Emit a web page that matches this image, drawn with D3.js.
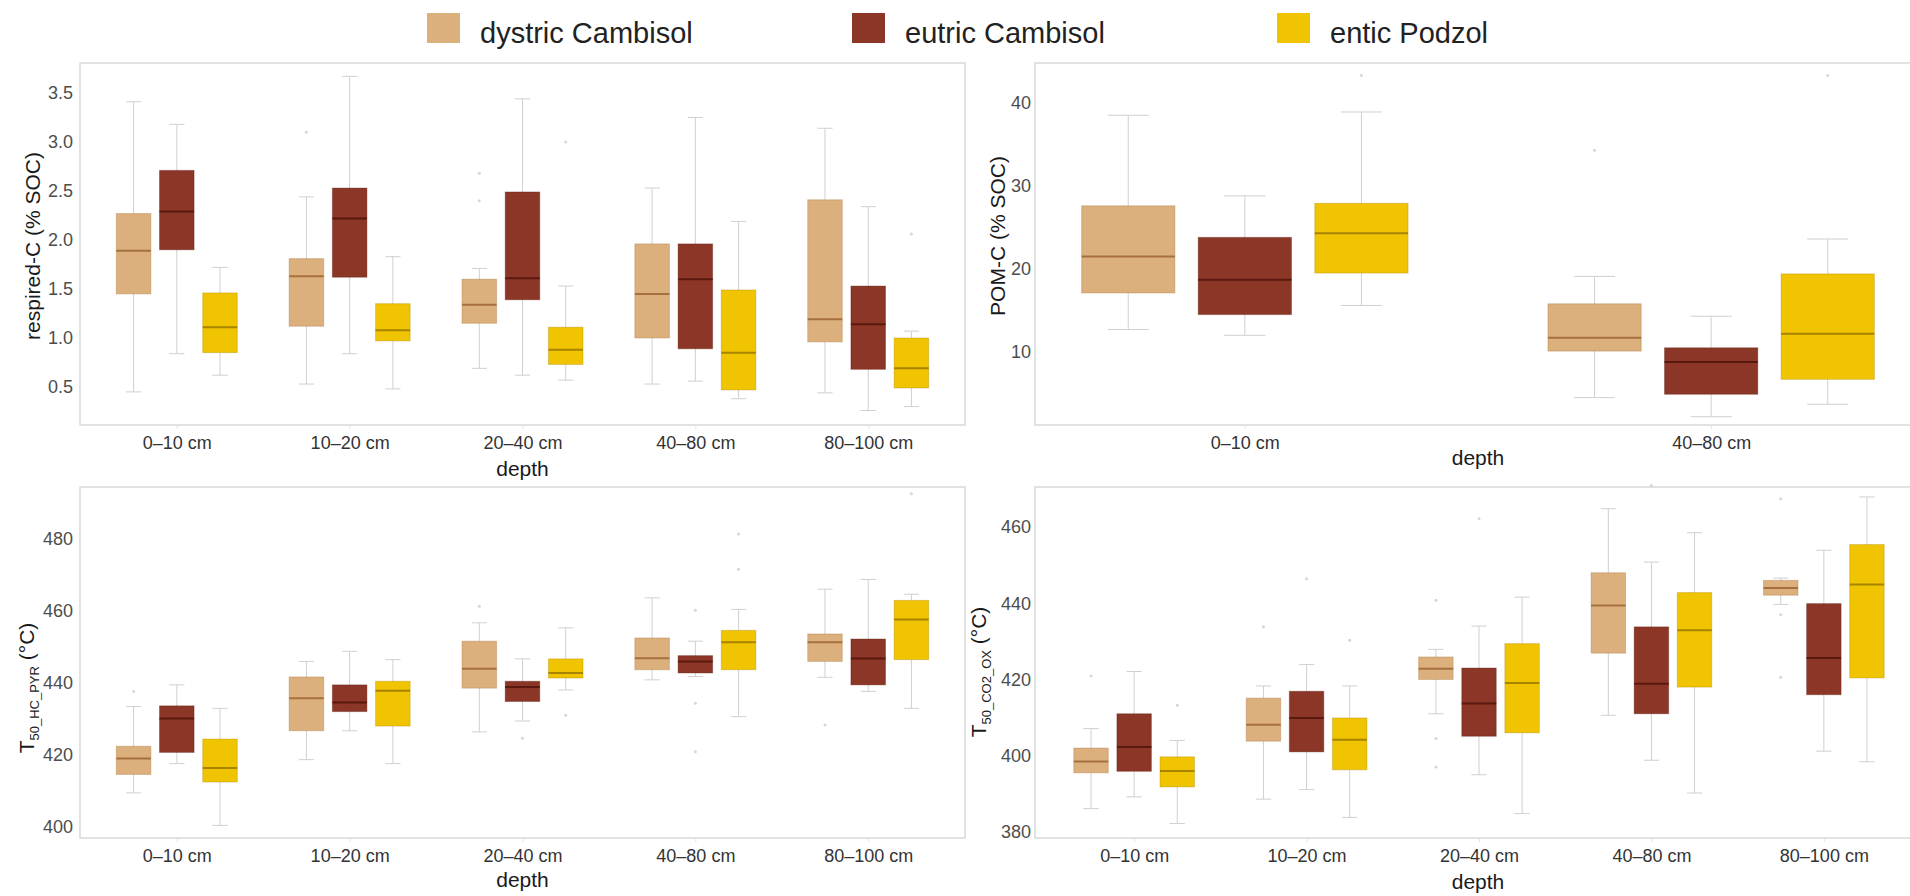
<!DOCTYPE html>
<html>
<head>
<meta charset="utf-8">
<script src="https://cdn.jsdelivr.net/npm/d3@7"></script>
<style>
    body { margin: 0; background: #fff; }
    text { font-family: "Liberation Sans", Arial, sans-serif; }
</style>
</head>
<body>
<svg id="chart" width="1910" height="896"></svg>
<script>
// soil types + depth classes
var soils = ['dystric Cambisol', 'eutric Cambisol', 'entic Podzol']
var depths5 = ['0–10 cm', '10–20 cm', '20–40 cm', '40–80 cm', '80–100 cm']
var depths2 = ['0–10 cm', '40–80 cm']

// each box: [lower whisker, q1, median, q3, upper whisker], one per depth
var respDys = [[0.45, 1.45, 1.89, 2.27, 3.41], [0.53, 1.12, 1.63, 1.81, 2.44], [0.69, 1.15, 1.34, 1.60, 1.71], [0.53, 1.00, 1.45, 1.96, 2.53], [0.44, 0.96, 1.19, 2.41, 3.14]]
var respEut = [[0.84, 1.90, 2.29, 2.71, 3.18], [0.84, 1.62, 2.22, 2.53, 3.67], [0.62, 1.39, 1.61, 2.49, 3.44], [0.56, 0.89, 1.60, 1.96, 3.25], [0.26, 0.68, 1.14, 1.53, 2.34]]
var respEnt = [[0.62, 0.85, 1.11, 1.46, 1.72], [0.48, 0.97, 1.08, 1.35, 1.83], [0.57, 0.73, 0.88, 1.11, 1.53], [0.38, 0.47, 0.85, 1.49, 2.19], [0.30, 0.49, 0.69, 1.00, 1.07]]

var pomDys = [[12.7, 17.1, 21.5, 27.6, 38.5], [4.5, 10.1, 11.7, 15.8, 19.1]]
var pomEut = [[12.0, 14.5, 18.7, 23.8, 28.8], [2.2, 4.9, 8.8, 10.5, 14.3]]
var pomEnt = [[15.6, 19.5, 24.3, 27.9, 38.9], [3.7, 6.7, 12.2, 19.4, 23.6]]

var hcDys = [[409.5, 414.6, 419.0, 422.4, 433.4], [418.7, 426.7, 435.7, 441.6, 445.9], [426.4, 438.5, 443.9, 451.5, 456.6], [440.8, 443.6, 446.8, 452.4, 463.5], [441.5, 445.9, 451.2, 453.5, 465.9]]
var hcEut = [[417.6, 420.7, 430.1, 433.6, 439.4], [426.7, 432.0, 434.5, 439.4, 448.7], [429.4, 434.8, 438.8, 440.4, 446.6], [441.7, 442.7, 445.9, 447.5, 451.5], [437.6, 439.4, 446.7, 452.1, 468.6]]
var hcEnt = [[400.5, 412.5, 416.4, 424.4, 432.9], [417.6, 428.0, 437.8, 440.4, 446.4], [438.0, 441.3, 442.7, 446.6, 455.2], [430.6, 443.6, 451.2, 454.5, 460.3], [432.9, 446.4, 457.5, 462.8, 464.5]]

var coDys = [[386.1, 395.5, 398.5, 402.0, 407.1], [388.6, 403.8, 408.1, 415.1, 418.3], [411.0, 420.0, 422.8, 425.9, 427.9], [410.6, 426.9, 439.4, 448.0, 464.8], [439.7, 442.1, 444.0, 446.0, 446.6]]
var coEut = [[389.2, 395.9, 402.3, 411.0, 422.1], [391.1, 401.0, 409.9, 416.9, 423.9], [395.0, 405.1, 413.7, 423.0, 434.0], [398.8, 411.0, 418.9, 433.8, 450.8], [401.2, 416.0, 425.6, 439.9, 453.9]]
var coEnt = [[382.2, 391.8, 396.0, 399.7, 404.0], [383.8, 396.3, 404.2, 409.9, 418.3], [384.8, 406.0, 419.1, 429.4, 441.6], [390.2, 418.0, 432.9, 442.8, 458.5], [398.4, 420.4, 444.9, 455.4, 467.9]]

// outliers: [depth index, soil index, value]
var respOut = [[1, 0, 3.1], [2, 0, 2.68], [2, 0, 2.4], [2, 2, 3.0], [4, 2, 2.06]]
var pomOut = [[0, 2, 43.3], [1, 0, 34.3], [1, 2, 43.3]]
var hcOut = [[0, 0, 437.6], [2, 0, 461.2], [2, 1, 424.6], [2, 2, 431], [3, 1, 460.1], [3, 1, 434.3], [3, 1, 420.9], [3, 2, 481.2], [3, 2, 471.4], [4, 0, 428.3], [4, 2, 492.3]]
var coOut = [[0, 0, 420.9], [0, 2, 413.2], [1, 0, 433.8], [1, 1, 446.4], [1, 2, 430.3], [2, 0, 440.8], [2, 0, 404.5], [2, 0, 397], [2, 1, 462.2], [3, 1, 470.9], [4, 0, 467.4], [4, 0, 437], [4, 0, 420.6]]

// tick values
var respTicks = [0.5, 1.0, 1.5, 2.0, 2.5, 3.0, 3.5]
var pomTicks = [10, 20, 30, 40]
var hcTicks = [400, 420, 440, 460, 480]
var coTicks = [380, 400, 420, 440, 460]

var fills = ['#dcb07c', '#8c3627', '#f0c400']
var medians = ['#a5703c', '#5a190f', '#a88300']

var svg = d3.select('#chart')

// legend
var legend = svg.append('g')
soils.forEach(function (s, i) {
    var lx = 427 + i * 425
    legend.append('rect').attr('x', lx).attr('y', 13).attr('width', 33).attr('height', 30).attr('fill', fills[i])
    legend.append('text').attr('x', lx + 53).attr('y', 43).attr('font-size', 29).attr('fill', '#222').text(s)
})

function drawPanel(p) {
    var g = svg.append('g')
    var x = d3.scalePoint().domain(p.cats).range([p.x0, p.x1]).padding(p.pad)
    var y = d3.scaleLinear().domain(p.dom).range([p.y1, p.y0])
    var step = x.step()
    var bw = step * 0.2, slot = step * 0.25

    g.append('rect').attr('x', p.x0).attr('y', p.y0).attr('width', p.x1 - p.x0).attr('height', p.y1 - p.y0)
        .attr('fill', '#fff').attr('stroke', '#d9d9d9').attr('stroke-width', 1.5)

    var boxes = []
    p.series.forEach(function (ser, s) {
        ser.forEach(function (b, i) {
            boxes.push({cat: p.cats[i], s: s, b: b})
        })
    })
    function cx(d) { return x(d.cat) + (d.s - 1) * slot }

    // whiskers
    g.selectAll('.wh').data(boxes).enter().append('line')
        .attr('x1', cx).attr('x2', cx)
        .attr('y1', function (d) { return y(d.b[4]) }).attr('y2', function (d) { return y(d.b[0]) })
        .attr('stroke', '#cfcfd6').attr('stroke-width', 1)
    ;[0, 4].forEach(function (k) {
        g.selectAll('.cap' + k).data(boxes).enter().append('line')
            .attr('x1', function (d) { return cx(d) - bw * 0.22 }).attr('x2', function (d) { return cx(d) + bw * 0.22 })
            .attr('y1', function (d) { return y(d.b[k]) }).attr('y2', function (d) { return y(d.b[k]) })
            .attr('stroke', '#cfcfd6').attr('stroke-width', 1)
    })

    g.selectAll('.box').data(boxes).enter().append('rect')
        .attr('x', function (d) { return cx(d) - bw / 2 }).attr('width', bw)
        .attr('y', function (d) { return y(d.b[3]) })
        .attr('height', function (d) { return y(d.b[1]) - y(d.b[3]) })
        .attr('fill', function (d) { return fills[d.s] })
        .attr('stroke', function (d) { return medians[d.s] }).attr('stroke-opacity', 0.35).attr('stroke-width', 1)

    g.selectAll('.med').data(boxes).enter().append('line')
        .attr('x1', function (d) { return cx(d) - bw / 2 }).attr('x2', function (d) { return cx(d) + bw / 2 })
        .attr('y1', function (d) { return y(d.b[2]) }).attr('y2', function (d) { return y(d.b[2]) })
        .attr('stroke', function (d) { return medians[d.s] }).attr('stroke-width', 2)

    g.selectAll('.out').data(p.outliers).enter().append('circle')
        .attr('cx', function (d) { return x(p.cats[d[0]]) + (d[1] - 1) * slot })
        .attr('cy', function (d) { return y(d[2]) })
        .attr('r', 1.5).attr('fill', '#c4c4c4').attr('opacity', 0.7)

    // axes
    var ya = g.append('g').attr('transform', 'translate(' + p.x0 + ',0)')
        .call(d3.axisLeft(y).tickValues(p.ticks).tickSize(0).tickPadding(p.tpad).tickFormat(p.fmt))
    ya.select('.domain').remove()
    ya.selectAll('text').attr('font-size', 18).attr('fill', '#4d4d4d').attr('font-family', '"Liberation Sans", Arial, sans-serif')

    var xa = g.append('g').attr('transform', 'translate(0,' + p.y1 + ')')
        .call(d3.axisBottom(x).tickSizeInner(4).tickSizeOuter(0).tickPadding(7))
    xa.select('.domain').remove()
    xa.selectAll('line').attr('stroke', '#e2e2e2')
    xa.selectAll('text').attr('font-size', 18).attr('fill', '#333').attr('font-family', '"Liberation Sans", Arial, sans-serif')

    g.append('text').attr('x', (p.x0 + Math.min(p.x1, 1921)) / 2).attr('y', p.depthY).attr('dy', '0.35em')
        .attr('text-anchor', 'middle').attr('font-size', 21).attr('fill', '#1a1a1a').text('depth')

    var t = g.append('text').attr('text-anchor', 'middle').attr('font-size', 21).attr('fill', '#1a1a1a')
        .attr('transform', 'translate(' + p.titleX + ',' + p.titleY + ') rotate(-90)')
    if (p.sub) {
        t.append('tspan').text('T')
        t.append('tspan').attr('font-size', 13).attr('dy', 5).text(p.sub)
        t.append('tspan').attr('dy', -5).text(' (°C)')
    } else {
        t.text(p.title)
    }
}

drawPanel({
    x0: 80, x1: 965, y0: 63, y1: 425, pad: 0.56, cats: depths5, dom: [0.112, 3.806],
    ticks: respTicks, fmt: d3.format('.1f'), tpad: 7, series: [respDys, respEut, respEnt], outliers: respOut,
    depthY: 469, title: 'respired-C (% SOC)', titleX: 40, titleY: 246
})
drawPanel({
    x0: 1035, x1: 1921, y0: 63, y1: 425, pad: 0.45, cats: depths2, dom: [1.2, 44.8],
    ticks: pomTicks, fmt: d3.format('d'), tpad: 4, series: [pomDys, pomEut, pomEnt], outliers: pomOut,
    depthY: 458, title: 'POM-C (% SOC)', titleX: 1005, titleY: 236
})
drawPanel({
    x0: 80, x1: 965, y0: 487, y1: 838, pad: 0.56, cats: depths5, dom: [397.0, 494.2],
    ticks: hcTicks, fmt: d3.format('d'), tpad: 7, series: [hcDys, hcEut, hcEnt], outliers: hcOut,
    depthY: 880, sub: '50_HC_PYR', titleX: 34, titleY: 688
})
drawPanel({
    x0: 1035, x1: 1923, y0: 487, y1: 838, pad: 0.575, cats: depths5, dom: [378.4, 470.5],
    ticks: coTicks, fmt: d3.format('d'), tpad: 4, series: [coDys, coEut, coEnt], outliers: coOut,
    depthY: 882, sub: '50_CO2_OX', titleX: 986, titleY: 672
})
</script>
</body>
</html>
